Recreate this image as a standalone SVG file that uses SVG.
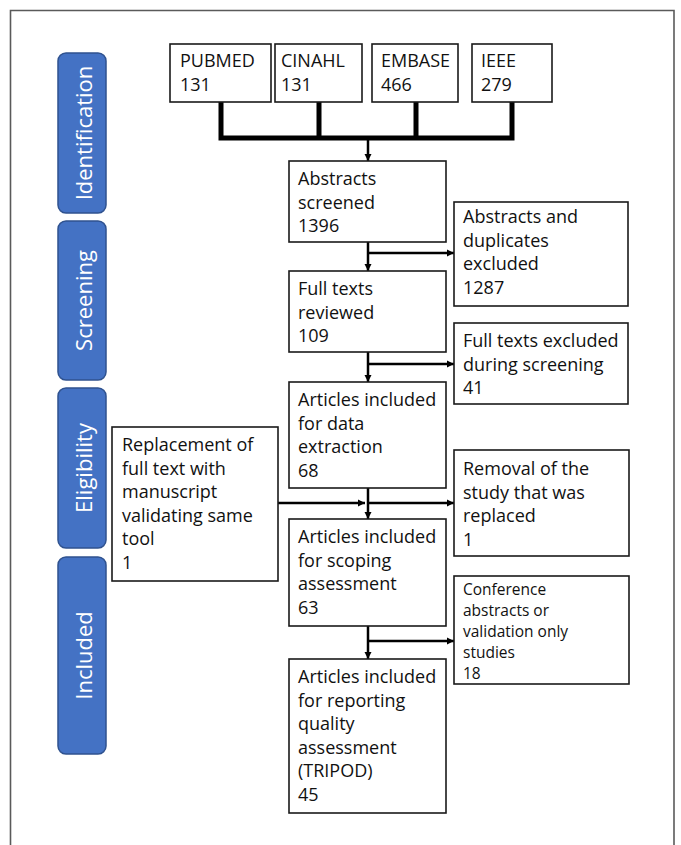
<svg xmlns="http://www.w3.org/2000/svg" width="681" height="845" viewBox="0 0 681 845">
<style>
.box{fill:#fff;stroke:#1a1a1a;stroke-width:1.6}
.t{font-family:"Open Sans","Noto Sans",sans-serif;font-size:18px;fill:#111}
.ts{font-family:"Open Sans","Noto Sans",sans-serif;font-size:15.5px;fill:#111}
.lab{fill:#4472C4;stroke:#2F528F;stroke-width:1.5}
.lt{font-family:"Open Sans","Noto Sans",sans-serif;font-size:22px;fill:#fff;text-anchor:middle}
.thick{stroke:#000;stroke-width:5;fill:none}
.c{stroke:#000;stroke-width:2.5;fill:none}
</style>
<defs>
<marker id="ah" viewBox="0 0 10 10" refX="10" refY="5" markerWidth="3" markerHeight="3" orient="auto" markerUnits="strokeWidth">
<path d="M0,0 L10,5 L0,10 z" fill="#000"/>
</marker>
</defs>
<rect width="681" height="845" fill="#fff"/>
<path d="M10.5 850 V10.5 H674 V850" fill="none" stroke="#5a5a5a" stroke-width="1.6"/>

<g id="phase-identification"><rect class="lab" x="58" y="53" width="48" height="160" rx="8"/><text class="lt" transform="translate(91.5,133) rotate(-90)">Identification</text></g>
<g id="phase-screening"><rect class="lab" x="58" y="221" width="48" height="159" rx="8"/><text class="lt" transform="translate(91.5,300.5) rotate(-90)">Screening</text></g>
<g id="phase-eligibility"><rect class="lab" x="58" y="388" width="48" height="160" rx="8"/><text class="lt" transform="translate(91.5,468) rotate(-90)">Eligibility</text></g>
<g id="phase-included"><rect class="lab" x="58" y="557" width="48" height="197" rx="8"/><text class="lt" transform="translate(91.5,655.5) rotate(-90)">Included</text></g>

<g id="connectors">
<path class="thick" d="M221 102 V138 M319 102 V138 M416 102 V138 M512 102 V138 M218.5 138 H514.5"/>
<path class="c" d="M368 140 V161" marker-end="url(#ah)"/>
<path class="c" d="M368 242 V271" marker-end="url(#ah)"/>
<path class="c" d="M368 253 H454" marker-end="url(#ah)"/>
<path class="c" d="M368 352 V382" marker-end="url(#ah)"/>
<path class="c" d="M368 364 H454" marker-end="url(#ah)"/>
<path class="c" d="M368 488 V519" marker-end="url(#ah)"/>
<path class="c" d="M278 503 H365" marker-end="url(#ah)"/>
<path class="c" d="M368 503 H454" marker-end="url(#ah)"/>
<path class="c" d="M368 626 V659" marker-end="url(#ah)"/>
<path class="c" d="M368 641 H454" marker-end="url(#ah)"/>
</g>

<g id="pubmed"><rect class="box" x="170" y="44" width="101" height="58"/><text class="t"><tspan x="180" y="67">PUBMED</tspan><tspan x="180" y="91">131</tspan></text></g>
<g id="cinahl"><rect class="box" x="275" y="44" width="87" height="58"/><text class="t"><tspan x="281" y="67">CINAHL</tspan><tspan x="281" y="91">131</tspan></text></g>
<g id="embase"><rect class="box" x="372" y="44" width="86" height="58"/><text class="t"><tspan x="381" y="67">EMBASE</tspan><tspan x="381" y="91">466</tspan></text></g>
<g id="ieee"><rect class="box" x="472" y="44" width="80" height="58"/><text class="t"><tspan x="481" y="67">IEEE</tspan><tspan x="481" y="91">279</tspan></text></g>

<g id="abstracts-screened"><rect class="box" x="289" y="161" width="157" height="81"/><text class="t"><tspan x="298" y="185">Abstracts</tspan><tspan x="298" y="208.5">screened</tspan><tspan x="298" y="232">1396</tspan></text></g>
<g id="abstracts-excluded"><rect class="box" x="454" y="202" width="174" height="104"/><text class="t"><tspan x="463" y="223">Abstracts and</tspan><tspan x="463" y="246.5">duplicates</tspan><tspan x="463" y="270">excluded</tspan><tspan x="463" y="293.5">1287</tspan></text></g>
<g id="full-texts-reviewed"><rect class="box" x="289" y="271" width="157" height="81"/><text class="t"><tspan x="298" y="295">Full texts</tspan><tspan x="298" y="318.5">reviewed</tspan><tspan x="298" y="342">109</tspan></text></g>
<g id="full-texts-excluded"><rect class="box" x="454" y="323" width="174" height="81"/><text class="t"><tspan x="463" y="347">Full texts excluded</tspan><tspan x="463" y="370.5">during screening</tspan><tspan x="463" y="394">41</tspan></text></g>
<g id="data-extraction"><rect class="box" x="289" y="382" width="157" height="106"/><text class="t"><tspan x="298" y="406">Articles included</tspan><tspan x="298" y="429.5">for data</tspan><tspan x="298" y="453">extraction</tspan><tspan x="298" y="476.5">68</tspan></text></g>
<g id="replacement"><rect class="box" x="112" y="427" width="166" height="154"/><text class="t"><tspan x="122" y="451">Replacement of</tspan><tspan x="122" y="474.5">full text with</tspan><tspan x="122" y="498">manuscript</tspan><tspan x="122" y="521.5">validating same</tspan><tspan x="122" y="545">tool</tspan><tspan x="122" y="568.5">1</tspan></text></g>
<g id="removal"><rect class="box" x="454" y="450" width="175" height="106"/><text class="t"><tspan x="463" y="475">Removal of the</tspan><tspan x="463" y="498.5">study that was</tspan><tspan x="463" y="522">replaced</tspan><tspan x="463" y="545.5">1</tspan></text></g>
<g id="scoping"><rect class="box" x="289" y="519" width="157" height="107"/><text class="t"><tspan x="298" y="543">Articles included</tspan><tspan x="298" y="566.5">for scoping</tspan><tspan x="298" y="590">assessment</tspan><tspan x="298" y="613.5">63</tspan></text></g>
<g id="conference"><rect class="box" x="454" y="576" width="175" height="108"/><text class="ts"><tspan x="463" y="595">Conference</tspan><tspan x="463" y="616">abstracts or</tspan><tspan x="463" y="637">validation only</tspan><tspan x="463" y="658">studies</tspan><tspan x="463" y="679">18</tspan></text></g>
<g id="tripod"><rect class="box" x="289" y="659" width="157" height="154"/><text class="t"><tspan x="298" y="683">Articles included</tspan><tspan x="298" y="706.5">for reporting</tspan><tspan x="298" y="730">quality</tspan><tspan x="298" y="753.5">assessment</tspan><tspan x="298" y="777">(TRIPOD)</tspan><tspan x="298" y="800.5">45</tspan></text></g>
</svg>
